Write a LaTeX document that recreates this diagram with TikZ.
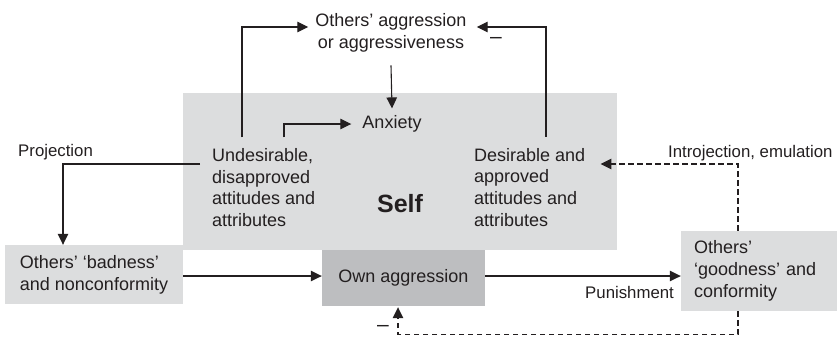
\documentclass[tikz,border=0pt]{standalone}
\usepackage{fontspec}
\setmainfont{Liberation Sans}
\usetikzlibrary{arrows.meta,calc}
\definecolor{lightg}{RGB}{220,221,222}
\definecolor{darkg}{RGB}{189,190,192}
\definecolor{ink}{RGB}{35,31,32}
\begin{document}
\begin{tikzpicture}[x=1pt,y=-1pt,
  box/.style={fill=lightg, draw=none, inner sep=0pt, text=ink, align=left,
              font=\fontsize{18}{21.7}\selectfont},
  txt/.style={font=\fontsize{18}{21.7}\selectfont, text=ink, inner sep=0pt, align=left},
  lbl/.style={font=\fontsize{16.8}{20}\selectfont, text=ink, inner sep=0pt},
  minus/.style={font=\fontsize{21}{22}\selectfont, text=ink, inner sep=0pt},
  arr/.style={draw=ink, line width=1.1pt, -{Triangle[length=11pt,width=10.5pt]}},
  dsh/.style={arr, dash pattern=on 5.5pt off 3.5pt},
]
\useasboundingbox (0,0) rectangle (837,338);
% boxes
\node[box, minimum width=434pt, minimum height=157pt] (self) at (400,171.5) {};
\node[box, minimum width=178pt, minimum height=59pt] (bad) at (94,274.5) {Others’ ‘badness’\\and nonconformity};
\node[box, fill=darkg, align=center, minimum width=163pt, minimum height=56pt] (own) at (403.5,278) {Own aggression};
\node[box, minimum width=156pt, minimum height=80pt, text width=130pt, inner xsep=13pt] (good) at (759,271) {Others’\\‘goodness’ and\\conformity};
% texts (base = baseline of last line)
\node[txt, anchor=base west] (undes) at (212,226.6) {Undesirable,\\disapproved\\attitudes and\\attributes};
\node[txt, anchor=base west] (desir) at (474,226.1) {Desirable and\\approved\\attitudes and\\attributes};
\node[font=\fontsize{25}{30}\selectfont\bfseries, text=ink, inner sep=0pt] (selfl) at (400,204) {Self};
\node[txt] (anx) at (392,124) {Anxiety};
\node[txt, align=center] (oagg) at (391,33) {Others’ aggression\\or aggressiveness};
\node[lbl, anchor=west] (proj) at (18,152) {Projection};
\node[lbl, anchor=west] (intro) at (668,153) {Introjection, emulation};
\node[lbl, anchor=west] (pun) at (585,292) {Punishment};
\node[minus] (m1) at (496,40) {–};
\node[minus] (m2) at (383,328) {–};
% connectors
\draw[arr] ([xshift=30pt,yshift=11pt]undes.north west) |- ([xshift=-7pt,yshift=6pt]oagg.west);
\draw[arr] ([xshift=72pt,yshift=11pt]undes.north west) |- ([xshift=-11pt]anx.west);
\draw[arr] ([xshift=72pt,yshift=11pt]desir.north west) |- ([xshift=10pt,yshift=6pt]oagg.east);
\draw[arr] ([yshift=-13pt]oagg.south) -- ([yshift=7pt]anx.north);
\draw[arr] ([xshift=-12pt,yshift=62.6pt]undes.base west) -| ([xshift=-31pt]bad.north);
\draw[arr] ([yshift=-1.5pt]bad.east) -- ([yshift=-1.5pt]bad.east -| own.west);
\draw[arr] ([yshift=2pt]own.east) -- ([yshift=2pt]own.east -| good.west);
\draw[dsh] ([xshift=-21pt]good.north) |- ([xshift=15pt,yshift=62.1pt]desir.base east);
\draw[dsh] ([xshift=-21pt]good.south) -- ++(0,23) -| ([xshift=-5.5pt,yshift=-1pt]own.south);
\end{tikzpicture}
\end{document}
